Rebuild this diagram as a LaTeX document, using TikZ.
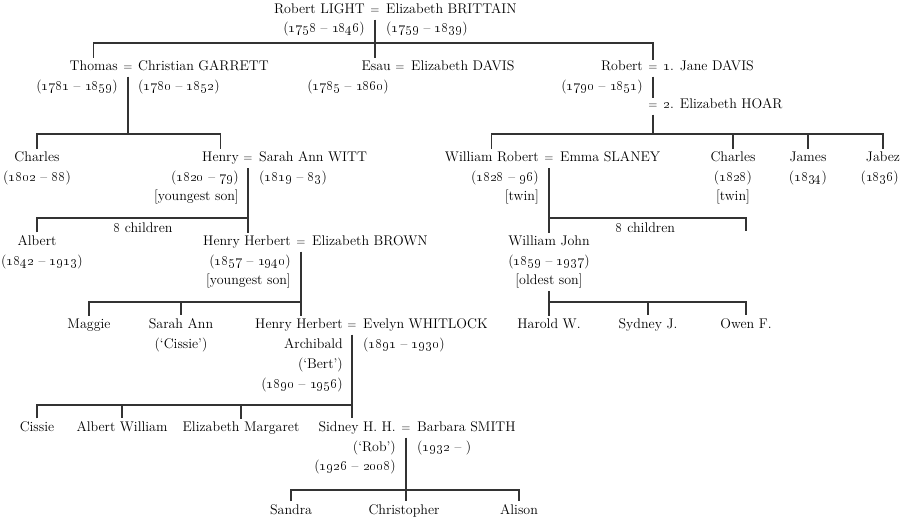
\documentclass[tikz,border=0pt]{standalone}
\usepackage{tikz}
\newcommand{\osn}[1]{\oldstylenums{#1}}

\tikzset{
  pers/.style={inner sep=0pt, text=black},
  eqs/.style={inner xsep=0pt, inner ysep=6pt, text=black, font=\fontsize{12}{14}\selectfont},
  fam/.style={line width=1.2pt, draw=black!80},
}

\begin{document}
\begin{tikzpicture}[x=1pt, y=-1pt, font=\fontsize{14}{19.5}\selectfont]
\useasboundingbox (0,0) rectangle (900,521);

% Robert LIGHT = Elizabeth BRITTAIN
\node[eqs, anchor=base] (eq1) at (375,13.5) {=};
\node[pers, anchor=base east] (robertL) at (365,13.5) {Robert LIGHT};
\node[pers, anchor=base east] (robertLd) at (365,32.5) {(\osn{1758} – \osn{1846})};
\node[pers, anchor=base west] (elizB) at (386,13.5) {Elizabeth BRITTAIN};
\node[pers, anchor=base west] (elizBd) at (386,32.5) {(\osn{1759} – \osn{1839})};

% their sons
\node[eqs, anchor=base] (eq2) at (128,70.5) {=};
\node[pers, anchor=base east] (thomas) at (118,70.5) {Thomas};
\node[pers, anchor=base east] (thomasd) at (118,91) {(\osn{1781} – \osn{1859})};
\node[pers, anchor=base west] (christian) at (138,70.5) {Christian GARRETT};
\node[pers, anchor=base west] (christiand) at (138,91) {(\osn{1780} – \osn{1852})};

\node[eqs, anchor=base] (eq3) at (400,70.5) {=};
\node[pers, anchor=base east] (esau) at (391,70.5) {Esau};
\node[pers, anchor=base east] (esaud) at (389,91) {(\osn{1785} – \osn{1860})};
\node[pers, anchor=base west] (elizD) at (411,70.5) {Elizabeth DAVIS};

\node[eqs, anchor=base] (eq4) at (653,70.5) {=};
\node[pers, anchor=base east] (robert) at (643,70.5) {Robert};
\node[pers, anchor=base east] (robertd) at (643,91) {(\osn{1790} – \osn{1851})};
\node[pers, anchor=base west] (jane) at (663,70.5) {\osn{1}. Jane DAVIS};
\node[eqs, anchor=base] (eq5) at (653,108.5) {=};
\node[pers, anchor=base west] (elizH) at (663,108.5) {\osn{2}. Elizabeth HOAR};

\coordinate (bus1) at (375,43);
\draw[fam, shorten >=3pt] (eq1.south) -- (eq1.south |- esau.north);
\draw[fam, shorten <=3pt] (thomas.north) |- (bus1) -| (eq4.north);

% Thomas's children
\node[pers, anchor=base] (charles) at (37,162) {Charles};
\node[pers, anchor=base] (charlesd) at (37,181.5) {(\osn{1802} – \osn{88})};
\node[eqs, anchor=base] (eq6) at (248,162) {=};
\node[pers, anchor=base east] (henry) at (239,162) {Henry};
\node[pers, anchor=base east] (henryd) at (239,181.5) {(\osn{1820} – \osn{79})};
\node[pers, anchor=base east] (henryn) at (239,200.5) {[youngest son]};
\node[pers, anchor=base west] (sarah) at (259,162) {Sarah Ann WITT};
\node[pers, anchor=base west] (sarahd) at (259,181.5) {(\osn{1819} – \osn{83})};

\coordinate (bus2) at (128,134);
\draw[fam] (eq2.south) -- (bus2);
\draw[fam, shorten <=3pt, shorten >=3pt] (charles.north) |- (bus2) -| (henry.north);

% Robert's children
\node[eqs, anchor=base] (eq7) at (549,162) {=};
\node[pers, anchor=base east] (williamR) at (539,162) {William Robert};
\node[pers, anchor=base east] (williamRd) at (539,181.5) {(\osn{1828} – \osn{96})};
\node[pers, anchor=base east] (williamRn) at (539,200.5) {[twin]};
\node[pers, anchor=base west] (emma) at (560,162) {Emma SLANEY};
\node[pers, anchor=base] (charles2) at (733,162) {Charles};
\node[pers, anchor=base] (charles2d) at (733,181.5) {(\osn{1828})};
\node[pers, anchor=base] (charles2n) at (733,200.5) {[twin]};
\node[pers, anchor=base] (james) at (808,162) {James};
\node[pers, anchor=base] (jamesd) at (808,181.5) {(\osn{1834})};
\node[pers, anchor=base] (jabez) at (883,162) {Jabez};
\node[pers, anchor=base east] (jabezd) at (899,181.5) {(\osn{1836})};

\coordinate (bus3) at (653,134);
\draw[fam] (eq4.south) -- (eq5.north);
\draw[fam] (eq5.south) -- (bus3);
\draw[fam, shorten <=3pt, shorten >=3pt] (williamR.north) |- (bus3) -| (jabez.north);
\draw[fam, shorten >=3pt] (charles2.north |- bus3) -- (charles2.north);
\draw[fam, shorten >=3pt] (james.north |- bus3) -- (james.north);

% Henry's children
\node[pers, anchor=base] (albert) at (37,245.5) {Albert};
\node[pers, anchor=base west] (albertd) at (1,265.5) {(\osn{1842} – \osn{1913})};
\node[pers, anchor=base] (kids1) at (143,232.5) {\osn{8} children};
\node[eqs, anchor=base] (eq8) at (301,245.5) {=};
\node[pers, anchor=base east] (henryH) at (291,245.5) {Henry Herbert};
\node[pers, anchor=base east] (henryHd) at (291,265.5) {(\osn{1857} – \osn{1940})};
\node[pers, anchor=base east] (henryHn) at (291,284.5) {[youngest son]};
\node[pers, anchor=base west] (elizBr) at (312,245.5) {Elizabeth BROWN};

\coordinate (bus4) at (248,218);
\draw[fam, shorten >=3pt] (eq6.south) -- (eq6.south |- henryH.north);
\draw[fam, shorten <=3pt] (albert.north) |- (bus4);

% William Robert's children
\node[pers, anchor=base] (williamJ) at (549,245.5) {William John};
\node[pers, anchor=base] (williamJd) at (549,265.5) {(\osn{1859} – \osn{1937})};
\node[pers, anchor=base] (williamJn) at (549,284.5) {[oldest son]};
\node[pers, anchor=base] (kids2) at (645.5,232.5) {\osn{8} children};

\coordinate (bus5) at (549,218);
\coordinate (more1) at (746,231);
\draw[fam, shorten >=3pt] (eq7.south) -- (eq7.south |- williamJ.north);
\draw[fam] (bus5) -| (more1);

% Henry Herbert's children
\node[pers, anchor=base] (maggie) at (89,328.5) {Maggie};
\node[pers, anchor=base] (sarahA) at (181,328.5) {Sarah Ann};
\node[pers, anchor=base] (sarahAn) at (181,348.5) {(‘Cissie’)};
\node[eqs, anchor=base] (eq9) at (352,328.5) {=};
\node[pers, anchor=base east] (henryH2) at (343,328.5) {Henry Herbert};
\node[pers, anchor=base east] (henryH2a) at (343,348.5) {Archibald};
\node[pers, anchor=base east] (henryH2n) at (343,368.5) {(‘Bert’)};
\node[pers, anchor=base east] (henryH2d) at (343,388.5) {(\osn{1890} – \osn{1956})};
\node[pers, anchor=base west] (evelyn) at (363,328.5) {Evelyn WHITLOCK};
\node[pers, anchor=base west] (evelynd) at (363,348.5) {(\osn{1891} – \osn{1930})};

\coordinate (bus6) at (301,302);
\draw[fam, shorten >=3pt] (eq8.south) -- (eq8.south |- henryH2.north);
\draw[fam, shorten <=3pt] (maggie.north) |- (bus6);
\draw[fam, shorten >=3pt] (sarahA.north |- bus6) -- (sarahA.north);

% William John's children
\node[pers, anchor=base] (harold) at (549,328.5) {Harold W.};
\node[pers, anchor=base] (sydney) at (648,328.5) {Sydney J.};
\node[pers, anchor=base] (owen) at (746,328.5) {Owen F.};

\coordinate (bus7) at (549,302);
\draw[fam, shorten <=3pt, shorten >=3pt] (williamJn.south) -- (harold.north);
\draw[fam, shorten >=3pt] (bus7) -| (owen.north);
\draw[fam, shorten >=3pt] (sydney.north |- bus7) -- (sydney.north);

% Bert's children
\node[pers, anchor=base] (cissie) at (37,431.5) {Cissie};
\node[pers, anchor=base] (albertW) at (122,431.5) {Albert William};
\node[pers, anchor=base] (elizM) at (241,431.5) {Elizabeth Margaret};
\node[eqs, anchor=base] (eq10) at (406,431.5) {=};
\node[pers, anchor=base east] (sidney) at (396,431.5) {Sidney H. H.};
\node[pers, anchor=base east] (sidneyn) at (396,451) {(‘Rob’)};
\node[pers, anchor=base east] (sidneyd) at (396,470.5) {(\osn{1926} – \osn{2008})};
\node[pers, anchor=base west] (barbara) at (417,431.5) {Barbara SMITH};
\node[pers, anchor=base west] (barbarad) at (417,451) {(\osn{1932} – )};

\coordinate (bus8) at (352,405);
\draw[fam, shorten >=3pt] (eq9.south) -- (eq9.south |- sidney.north);
\draw[fam, shorten <=3pt] (cissie.north) |- (bus8);
\draw[fam, shorten >=3pt] (albertW.north |- bus8) -- (albertW.north);
\draw[fam, shorten >=3pt] (elizM.north |- bus8) -- (elizM.north);

% Sidney's children
\node[pers, anchor=base] (sandra) at (291,514.5) {Sandra};
\node[pers, anchor=base] (christopher) at (404,514.5) {Christopher};
\node[pers, anchor=base] (alison) at (519,514.5) {Alison};

\coordinate (bus9) at (406,490);
\draw[fam, shorten >=3pt] (eq10.south) -- (eq10.south |- christopher.north);
\draw[fam, shorten <=3pt, shorten >=3pt] (sandra.north) |- (bus9) -| (alison.north);
\end{tikzpicture}
\end{document}
